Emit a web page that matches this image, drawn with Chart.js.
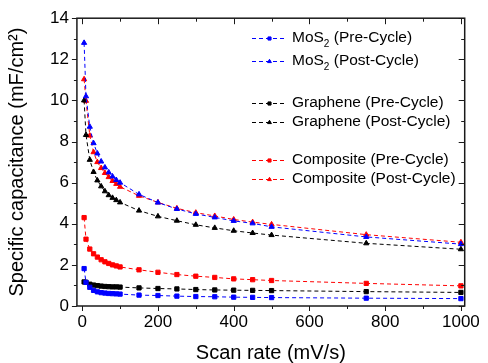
<!DOCTYPE html>
<html>
<head>
<meta charset="utf-8">
<script src="https://cdn.jsdelivr.net/npm/chart.js@4.4.1/dist/chart.umd.min.js"></script>
<style>
  html, body { margin: 0; padding: 0; background: #fff; }
  #wrap { width: 488px; height: 363px; }
</style>
</head>
<body>
<div id="wrap"><canvas id="chart" width="488" height="363"></canvas></div>
<script>
const FONT = "'Liberation Sans', Arial, sans-serif";

// scan rate in mV/s
const scanRates = [5, 10, 20, 30, 40, 50, 60, 70, 80, 90, 100, 150, 200, 250, 300, 350, 400, 450, 500, 750, 1000];

// specific capacitance in mF/cm2
const mos2Pre = [1.82, 1.15, 0.91, 0.76, 0.69, 0.65, 0.63, 0.61, 0.60, 0.59, 0.58, 0.53, 0.51, 0.48, 0.46, 0.45, 0.43, 0.42, 0.41, 0.38, 0.36];
const mos2Post = [12.8, 10.2, 8.72, 7.92, 7.42, 7.03, 6.74, 6.50, 6.30, 6.13, 6.00, 5.43, 5.03, 4.72, 4.48, 4.31, 4.14, 4.02, 3.85, 3.36, 3.01];
const graphenePre = [1.17, 1.15, 1.06, 1.02, 0.99, 0.97, 0.95, 0.94, 0.93, 0.93, 0.92, 0.88, 0.85, 0.83, 0.80, 0.78, 0.77, 0.76, 0.75, 0.70, 0.66];
const graphenePost = [10.0, 8.32, 7.11, 6.52, 6.11, 5.82, 5.58, 5.39, 5.26, 5.15, 5.04, 4.64, 4.36, 4.15, 3.95, 3.80, 3.66, 3.55, 3.45, 3.05, 2.76];
const compositePre = [4.30, 3.25, 2.77, 2.54, 2.38, 2.25, 2.15, 2.07, 2.00, 1.95, 1.90, 1.76, 1.64, 1.53, 1.45, 1.39, 1.32, 1.28, 1.24, 1.10, 0.98];
const compositePost = [11.03, 9.98, 8.29, 7.48, 7.00, 6.71, 6.47, 6.27, 6.08, 5.94, 5.80, 5.36, 5.04, 4.75, 4.54, 4.38, 4.21, 4.08, 3.97, 3.47, 3.10];

const xTicks = [0, 200, 400, 600, 800, 1000];
const yTicks = [0, 2, 4, 6, 8, 10, 12, 14];

// label parts: [before subscript, subscript, after]
const seriesLabels = [
  ["MoS", "2", " (Pre-Cycle)"],
  ["MoS", "2", " (Post-Cycle)"],
  ["Graphene (Pre-Cycle)", "", ""],
  ["Graphene (Post-Cycle)", "", ""],
  ["Composite (Pre-Cycle)", "", ""],
  ["Composite (Post-Cycle)", "", ""]
];
const seriesData = [mos2Pre, mos2Post, graphenePre, graphenePost, compositePre, compositePost];
const seriesColors = ["#0000ff", "#0000ff", "#000000", "#000000", "#ff0000", "#ff0000"];
const seriesMarkers = ["rect", "triangle", "rect", "triangle", "rect", "triangle"];

const datasets = seriesData.map((vals, i) => ({
  label: seriesLabels[i].join(""),
  data: vals.map((v, j) => ({ x: scanRates[j], y: v })),
  borderColor: seriesColors[i],
  backgroundColor: seriesColors[i],
  borderWidth: 1,
  borderDash: [4, 3],
  pointStyle: seriesMarkers[i],
  pointRadius: 3,
  pointBorderWidth: 1,
  tension: 0
}));

// box + ticks on all four sides (outward left/bottom, inward top/right)
const frameTicks = {
  id: "frameTicks",
  afterDraw(chart) {
    const { ctx, chartArea: a, scales } = chart;
    const xs = scales.x, ys = scales.y;
    ctx.save();
    ctx.strokeStyle = "#1a1a1a";
    ctx.lineWidth = 1.5;
    ctx.strokeRect(a.left, a.top, a.right - a.left, a.bottom - a.top);
    ctx.lineWidth = 1;
    ctx.beginPath();
    const xMinor = xTicks.slice(0, -1).map((v, i) => (v + xTicks[i + 1]) / 2);
    const yMinor = yTicks.slice(0, -1).map((v, i) => (v + yTicks[i + 1]) / 2);
    xTicks.forEach(v => {
      const px = Math.round(xs.getPixelForValue(v)) + 0.5;
      ctx.moveTo(px, a.bottom); ctx.lineTo(px, a.bottom + 5);
      ctx.moveTo(px, a.top); ctx.lineTo(px, a.top + 6);
    });
    xMinor.forEach(v => {
      const px = Math.round(xs.getPixelForValue(v)) + 0.5;
      ctx.moveTo(px, a.bottom); ctx.lineTo(px, a.bottom + 3);
      ctx.moveTo(px, a.top); ctx.lineTo(px, a.top + 3.5);
    });
    yTicks.forEach(v => {
      const py = Math.round(ys.getPixelForValue(v)) + 0.5;
      ctx.moveTo(a.left, py); ctx.lineTo(a.left - 5, py);
      ctx.moveTo(a.right, py); ctx.lineTo(a.right - 6, py);
    });
    yMinor.forEach(v => {
      const py = Math.round(ys.getPixelForValue(v)) + 0.5;
      ctx.moveTo(a.left, py); ctx.lineTo(a.left - 3, py);
      ctx.moveTo(a.right, py); ctx.lineTo(a.right - 3.5, py);
    });
    ctx.stroke();
    ctx.restore();
  }
};

// legend with gaps between groups and subscript text
const groupedLegend = {
  id: "groupedLegend",
  afterDraw(chart) {
    const { ctx } = chart;
    const rowY = [38, 61, 103, 122, 160, 179];
    const lineX0 = 252, lineX1 = 287, textX = 292;
    ctx.save();
    chart.data.datasets.forEach((ds, i) => {
      const y = rowY[i];
      ctx.strokeStyle = ds.borderColor;
      ctx.lineWidth = 1;
      ctx.setLineDash([4, 3]);
      ctx.beginPath();
      ctx.moveTo(lineX0, y + 0.5); ctx.lineTo(lineX1, y + 0.5);
      ctx.stroke();
      ctx.setLineDash([]);
      ctx.fillStyle = ds.backgroundColor;
      Chart.helpers.drawPoint(ctx, { pointStyle: ds.pointStyle, radius: 2.2, borderWidth: 1 }, (lineX0 + lineX1) / 2, y + 0.5);
      ctx.fill();
      const [a, sub, b] = seriesLabels[i];
      ctx.fillStyle = "#000";
      ctx.textBaseline = "middle";
      ctx.font = "15.5px " + FONT;
      let x = textX;
      ctx.fillText(a, x, y);
      x += ctx.measureText(a).width;
      if (sub) {
        ctx.font = "10px " + FONT;
        ctx.fillText(sub, x, y + 6);
        x += ctx.measureText(sub).width;
        ctx.font = "15.5px " + FONT;
        ctx.fillText(b, x, y);
      }
    });
    ctx.restore();
  }
};

new Chart(document.getElementById("chart"), {
  type: "line",
  data: { datasets },
  options: {
    responsive: false,
    animation: false,
    devicePixelRatio: 1,
    layout: { padding: { top: 17, right: 18, left: 7, bottom: 0 } },
    plugins: { legend: { display: false }, tooltip: { enabled: false } },
    scales: {
      x: {
        type: "linear",
        min: -14,
        max: 1010,
        afterBuildTicks: s => { s.ticks = xTicks.map(v => ({ value: v })); },
        grid: { display: false, drawTicks: false },
        border: { display: false },
        ticks: { color: "#000", font: { family: FONT, size: 17, lineHeight: 1 }, padding: 8, maxRotation: 0, callback: v => String(v) },
        title: { display: true, text: "Scan rate (mV/s)", color: "#000", font: { family: FONT, size: 20, lineHeight: 1 }, padding: { top: 4, bottom: 0 } }
      },
      y: {
        min: 0,
        max: 14,
        afterBuildTicks: s => { s.ticks = yTicks.map(v => ({ value: v })); },
        grid: { display: false, drawTicks: false },
        border: { display: false },
        ticks: { color: "#000", font: { family: FONT, size: 17 }, padding: 8, callback: v => String(v) },
        title: { display: true, text: "Specific capacitance (mF/cm²)", color: "#000", font: { family: FONT, size: 20, lineHeight: 1 }, padding: { top: 0, bottom: 15 } }
      }
    }
  },
  plugins: [frameTicks, groupedLegend]
});
</script>
</body>
</html>
